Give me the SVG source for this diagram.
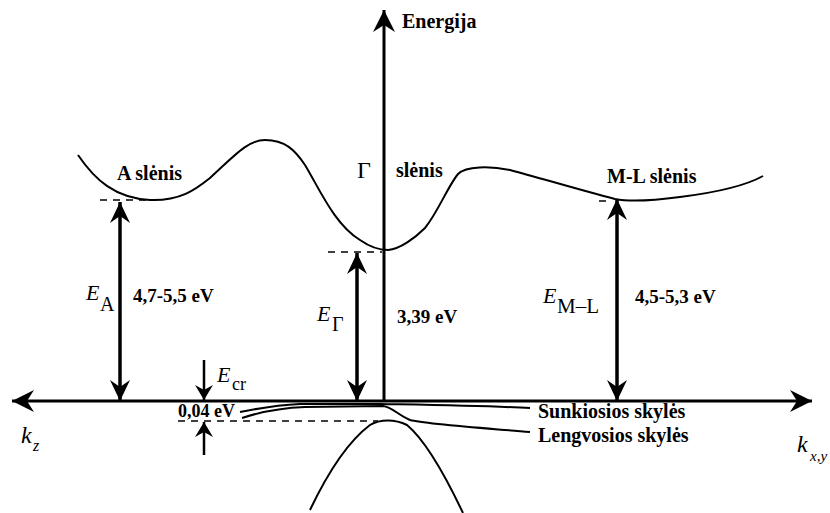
<svg xmlns="http://www.w3.org/2000/svg" width="830" height="513" viewBox="0 0 830 513">
<style>
text{font-family:"Liberation Serif","Times New Roman","DejaVu Serif",serif;fill:#000}
.b{font-weight:bold}
.it{font-style:italic}
.curve{fill:none;stroke:#000;stroke-width:2}
.axis{fill:none;stroke:#000;stroke-width:3}
.earrow{fill:none;stroke:#000;stroke-width:3.5}
.dash{fill:none;stroke:#000;stroke-width:1.5;stroke-dasharray:7,6}
</style>
<defs>
<marker id="big" markerUnits="userSpaceOnUse" markerWidth="26" markerHeight="26" viewBox="-24 -12 26 24" refX="0" refY="0" orient="auto-start-reverse">
<path d="M0,0 L-22,-11 L-15,0 L-22,11 Z" fill="#000"/>
</marker>
<marker id="mid" markerUnits="userSpaceOnUse" markerWidth="26" markerHeight="26" viewBox="-24 -12 26 24" refX="0" refY="0" orient="auto-start-reverse">
<path d="M0,0 L-21,-10 L-14,0 L-21,10 Z" fill="#000"/>
</marker>
<marker id="sm" markerUnits="userSpaceOnUse" markerWidth="20" markerHeight="20" viewBox="-18 -10 20 20" refX="0" refY="0" orient="auto">
<path d="M0,0 L-15,-9 L-10,0 L-15,9 Z" fill="#000"/>
</marker>
</defs>

<g id="connectors">
<path class="axis" d="M12,401 L812,401" marker-start="url(#big)" marker-end="url(#big)"/>
<path class="axis" d="M384,401 L384,10" marker-end="url(#big)"/>
<path class="earrow" d="M120,401 L120,202" marker-start="url(#mid)" marker-end="url(#mid)"/>
<path class="earrow" d="M357,401 L357,253" marker-start="url(#mid)" marker-end="url(#mid)"/>
<path class="earrow" d="M617,401 L617,199" marker-start="url(#mid)" marker-end="url(#mid)"/>
<path fill="none" stroke="#000" stroke-width="2.5" d="M204,360 L204,400" marker-end="url(#sm)"/>
<path fill="none" stroke="#000" stroke-width="2.5" d="M204,455 L204,422" marker-end="url(#sm)"/>
<line class="dash" x1="100" y1="200" x2="156" y2="200"/>
<line class="dash" x1="328" y1="252" x2="382" y2="252"/>
<line class="dash" x1="599" y1="201" x2="606" y2="201"/>
<line class="dash" x1="178" y1="421" x2="378" y2="421"/>
</g>

<g id="conduction-band">
<path class="curve" d="M78,155 C95,180 115,198 150,200 C180,201 195,190 210,178 C235,155 248,140 265,140 C285,140 295,150 305,165 C320,190 335,225 360,240 C370,247 378,250 388,250 C400,249 415,238 425,228 C438,212 448,186 458,174 C466,166 490,166 510,170 C540,178 580,190 615,199 C630,202 650,201 680,197 C720,192 745,186 763,176"/>
</g>

<g id="valence-bands">
<path class="curve" d="M240,412 C260,408 280,405 300,404 L380,404 C430,405 490,406 530,408"/>
<path class="curve" d="M242,418 C260,412 280,408 305,407 L383,406 C392,407 398,415 410,420 C425,424 470,427 530,432"/>
<path class="curve" d="M310,510 C330,468 350,440 370,425 C380,419 395,419 407,425 C425,440 445,475 463,513"/>
</g>

<g id="labels">
<text class="b" x="402" y="28" font-size="20">Energija</text>
<text class="b" x="117" y="180" font-size="20">A slėnis</text>
<text x="357" y="178" font-size="24">Γ</text>
<text class="b" x="396" y="177" font-size="20">slėnis</text>
<text class="b" x="607" y="183" font-size="20">M-L slėnis</text>

<text class="it" x="86" y="300" font-size="22">E</text>
<text x="100" y="311" font-size="20">A</text>
<text class="b" x="133" y="302" font-size="19">4,7-5,5 eV</text>

<text class="it" x="317" y="321" font-size="22">E</text>
<text x="332" y="331" font-size="20">Γ</text>
<text class="b" x="397" y="323" font-size="19">3,39 eV</text>

<text class="it" x="543" y="303" font-size="22">E</text>
<text x="557" y="313" font-size="21">M–L</text>
<text class="b" x="635" y="303" font-size="19">4,5-5,3 eV</text>

<text class="it" x="217" y="382" font-size="22">E</text>
<text x="232" y="390" font-size="18">cr</text>
<text class="b" x="178" y="417" font-size="18">0,04 eV</text>

<text class="b" x="538" y="418" font-size="20">Sunkiosios skylės</text>
<text class="b" x="538" y="442" font-size="20">Lengvosios skylės</text>

<text class="it" x="21" y="443" font-size="24">k</text>
<text class="it" x="33" y="451" font-size="16">z</text>
<text class="it" x="797" y="452" font-size="24">k</text>
<text class="it" x="810" y="461" font-size="15">x,y</text>
</g>
</svg>
